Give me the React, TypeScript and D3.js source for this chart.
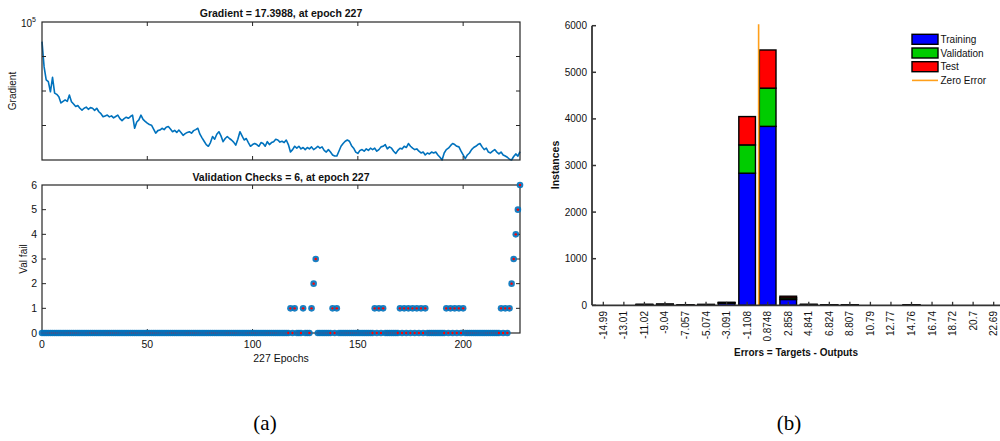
import React, { useMemo } from 'react';
import * as d3 from 'd3';

// gradient per epoch (0..227)
const gradientValues = [
  26900, 5000, 2100, 1860, 950, 2500, 870, 800, 680, 450,
  500, 550, 500, 760, 490, 420, 355, 380, 316, 280,
  316, 340, 295, 330, 316, 275, 316, 250, 220, 180,
  190, 200, 178, 190, 166, 182, 200, 158, 138, 158,
  174, 162, 182, 200, 83, 126, 145, 200, 151, 132,
  117, 107, 102, 79, 60, 71, 74, 83, 76, 89,
  93, 79, 66, 72, 63, 74, 63, 52, 58, 63,
  66, 60, 71, 76, 83, 56, 44, 35, 28, 25,
  32, 48, 40, 56, 66, 50, 34, 42, 48, 42,
  38, 33, 27, 40, 66, 50, 38, 42, 32, 25,
  28, 30, 28, 25, 32, 30, 25, 34, 28, 32,
  34, 40, 38, 33, 35, 32, 38, 28, 17, 20,
  25, 22, 25, 21, 23, 20, 23, 21, 24, 20,
  22, 25, 22, 24, 19, 17, 20, 17, 14, 13,
  13, 18, 25, 30, 35, 38, 35, 26, 22, 17,
  15.5, 19, 20, 18, 21, 19, 22, 20, 22, 18,
  20, 24, 25, 28, 21, 24, 22, 18, 15.5, 19,
  22, 21, 25, 23, 30, 25, 22, 20, 21, 18,
  16, 17, 14, 16, 15, 17, 16, 17, 14, 12,
  10, 16, 20, 22, 26, 30, 28, 25, 24, 18,
  14, 11, 14, 16, 20, 23, 25, 28, 30, 24,
  20, 22, 17, 16, 18, 20, 17, 15, 17, 14,
  13, 12, 10.5, 10, 12.6, 15, 13, 17.3988,
];

// validation checks: epochs with a non-zero count (all others are 0)
const valFailEpochs = [118, 120, 124, 128, 129, 130, 138, 140, 158, 160, 162, 170, 172, 174, 176, 178, 180, 182, 192, 194, 196, 198, 200, 218, 220, 222, 223, 224, 225, 226, 227];
const valFailChecks = [1, 1, 1, 1, 2, 3, 1, 1, 1, 1, 1, 1, 1, 1, 1, 1, 1, 1, 1, 1, 1, 1, 1, 1, 1, 1, 2, 3, 4, 5, 6];

const epochTicks = [0, 50, 100, 150, 200];
const valFailTicks = [0, 1, 2, 3, 4, 5, 6];
const gradientDecades = [10, 100, 1000, 10000, 100000];

// error histogram
const binLabels = ['-14.99', '-13.01', '-11.02', '-9.04', '-7.057', '-5.074', '-3.091', '-1.108', '0.8748', '2.858', '4.841', '6.824', '8.807', '10.79', '12.77', '14.76', '16.74', '18.72', '20.7', '22.69'];
const trainingCounts = [0, 0, 14, 18, 7, 13, 46, 2835, 3840, 125, 14, 8, 8, 0, 0, 7, 0, 0, 0, 0];
const validationCounts = [0, 0, 3, 4, 2, 3, 10, 607, 820, 35, 3, 2, 2, 0, 0, 2, 0, 0, 0, 0];
const testCounts = [0, 0, 3, 3, 1, 2, 9, 608, 819, 35, 3, 2, 2, 0, 0, 1, 0, 0, 0, 0];
const instanceTicks = [0, 1000, 2000, 3000, 4000, 5000, 6000];
const seriesNames = ['Training', 'Validation', 'Test'];
const seriesColors = ['#0000ff', '#00cc00', '#ff0000'];

const FONT = '"Liberation Sans", Arial, Helvetica, sans-serif';
const AX = '#262626';
const BLUE = '#0072bd';

const App: React.FC = () => {
  const top = { left: 42, right: 520, top: 22, bottom: 160 };
  const bot = { left: 42, right: 520, top: 185, bottom: 333 };
  const hist = { left: 592, right: 1005, top: 25.7, bottom: 305.3 };

  const { xTop, yGrad, gradPath, yVal, valPoints } = useMemo(() => {
    const xTop = d3.scaleLinear().domain([0, gradientValues.length - 1]).range([top.left, top.right]);
    const yGrad = d3.scaleLog().domain([10, 1e5]).range([top.bottom, top.top]);
    const gradPath = d3.line<number>()
      .x((_, i) => xTop(i))
      .y(d => yGrad(d))(gradientValues) || '';
    const yVal = d3.scaleLinear().domain([0, 6]).range([bot.bottom, bot.top]);
    const valPoints = gradientValues.map((_, i) => {
      const k = valFailEpochs.indexOf(i);
      return { epoch: i, checks: k >= 0 ? valFailChecks[k] : 0 };
    });
    return { xTop, yGrad, gradPath, yVal, valPoints };
  }, []);

  const { xBand, yHist, stacked, zeroX } = useMemo(() => {
    const xBand = d3.scaleBand<string>().domain(binLabels).range([hist.left, hist.right])
      .paddingInner(0.19).paddingOuter(0.146);
    const yHist = d3.scaleLinear().domain([0, 6000]).range([hist.bottom, hist.top]);
    const rows = binLabels.map((b, i) => ({
      bin: b,
      Training: trainingCounts[i],
      Validation: validationCounts[i],
      Test: testCounts[i],
    }));
    const stacked = d3.stack<any>().keys(seriesNames)(rows);
    // error value -> pixel, through bin centres
    const first = +binLabels[0];
    const last = +binLabels[binLabels.length - 1];
    const errX = d3.scaleLinear().domain([first, last]).range([
      (xBand(binLabels[0]) || 0) + xBand.bandwidth() / 2,
      (xBand(binLabels[binLabels.length - 1]) || 0) + xBand.bandwidth() / 2,
    ]);
    return { xBand, yHist, stacked, zeroX: errX(0) };
  }, []);

  const tick = 4;

  return (
    <svg width={1000} height={441} viewBox="0 0 1000 441"
      style={{ position: 'absolute', left: 0, top: 0, background: '#fff' }}
      fontFamily={FONT}>
      {/* ---------- (a) top: gradient ---------- */}
      <text x={(top.left + top.right) / 2} y={16.5} textAnchor="middle" fontSize={10.5} fontWeight="bold" fill="#111">
        Gradient = 17.3988, at epoch 227
      </text>
      <text transform={`translate(16, ${(top.top + top.bottom) / 2}) rotate(-90)`} textAnchor="middle" fontSize={10} fill="#111">
        Gradient
      </text>
      <text x={21} y={27} fontSize={10} fill="#111">10</text>
      <text x={32} y={21.5} fontSize={7} fill="#111">5</text>

      <path d={gradPath} fill="none" stroke={BLUE} strokeWidth={1.6} strokeLinejoin="round" />

      {epochTicks.filter(t => t > 0).map(t => (
        <g key={`gt${t}`}>
          <line x1={xTop(t)} x2={xTop(t)} y1={top.top} y2={top.top + tick} stroke={AX} />
          <line x1={xTop(t)} x2={xTop(t)} y1={top.bottom} y2={top.bottom - tick} stroke={AX} />
        </g>
      ))}
      {gradientDecades.slice(1, -1).map(t => (
        <g key={`gd${t}`}>
          <line x1={top.left} x2={top.left + tick} y1={yGrad(t)} y2={yGrad(t)} stroke={AX} />
          <line x1={top.right} x2={top.right - tick} y1={yGrad(t)} y2={yGrad(t)} stroke={AX} />
        </g>
      ))}
      <rect x={top.left} y={top.top} width={top.right - top.left} height={top.bottom - top.top}
        fill="none" stroke={AX} strokeWidth={1.2} />

      {/* ---------- (a) bottom: validation checks ---------- */}
      <text x={(bot.left + bot.right) / 2} y={181} textAnchor="middle" fontSize={10.5} fontWeight="bold" fill="#111">
        Validation Checks = 6, at epoch 227
      </text>
      <text transform={`translate(27, ${(bot.top + bot.bottom) / 2}) rotate(-90)`} textAnchor="middle" fontSize={10} fill="#111">
        Val fail
      </text>
      <text x={(bot.left + bot.right) / 2} y={362} textAnchor="middle" fontSize={10.5} fill="#111">
        227 Epochs
      </text>
      {valFailTicks.map(t => (
        <g key={`vt${t}`}>
          <text x={37} y={yVal(t)} dy="0.35em" textAnchor="end" fontSize={10.5} fill="#111">{t}</text>
          {t > 0 && t < 6 && (
            <>
              <line x1={bot.left} x2={bot.left + tick} y1={yVal(t)} y2={yVal(t)} stroke={AX} />
              <line x1={bot.right} x2={bot.right - tick} y1={yVal(t)} y2={yVal(t)} stroke={AX} />
            </>
          )}
        </g>
      ))}
      {epochTicks.map(t => (
        <g key={`vx${t}`}>
          <text x={xTop(t)} y={348} textAnchor="middle" fontSize={10.5} fill="#111">{t}</text>
          {t > 0 && (
            <>
              <line x1={xTop(t)} x2={xTop(t)} y1={bot.top} y2={bot.top + tick} stroke={AX} />
              <line x1={xTop(t)} x2={xTop(t)} y1={bot.bottom} y2={bot.bottom - tick} stroke={AX} />
            </>
          )}
        </g>
      ))}
      <rect x={bot.left} y={bot.top} width={bot.right - bot.left} height={bot.bottom - bot.top}
        fill="none" stroke={AX} strokeWidth={1.2} />
      {valPoints.map(p => (
        <g key={`vp${p.epoch}`}>
          <circle cx={xTop(p.epoch)} cy={yVal(p.checks)} r={3.3} fill={BLUE} opacity={0.9} />
          <circle cx={xTop(p.epoch)} cy={yVal(p.checks)} r={1.2} fill="#ff0000" />
        </g>
      ))}

      {/* ---------- (b) error histogram ---------- */}
      {stacked.map((layer, si) => (
        <g key={layer.key} fill={seriesColors[si]} stroke="#000" strokeWidth={1.4}>
          {layer.map((d, i) => (
            <rect key={binLabels[i]}
              x={xBand(binLabels[i])}
              y={yHist(d[1])}
              width={xBand.bandwidth()}
              height={Math.max(0, yHist(d[0]) - yHist(d[1]))} />
          ))}
        </g>
      ))}
      <line x1={zeroX} x2={zeroX} y1={hist.top - 1.5} y2={hist.bottom} stroke="#ff9f1a" strokeWidth={1.6} />

      <line x1={hist.left} x2={1000} y1={hist.bottom} y2={hist.bottom} stroke="#333" strokeWidth={1.8} />
      <line x1={hist.left} x2={hist.left} y1={hist.top} y2={hist.bottom} stroke="#333" strokeWidth={1.8} />
      {instanceTicks.map(t => (
        <g key={`it${t}`}>
          <line x1={hist.left} x2={hist.left + tick} y1={yHist(t)} y2={yHist(t)} stroke="#333" strokeWidth={1.5} />
          <text x={587} y={yHist(t)} dy="0.35em" textAnchor="end" fontSize={10} fill="#111">{t}</text>
        </g>
      ))}
      {binLabels.map(b => {
        const cx = (xBand(b) || 0) + xBand.bandwidth() / 2;
        return (
          <g key={`bl${b}`}>
            <line x1={cx} x2={cx} y1={hist.bottom} y2={hist.bottom - 3.5} stroke="#333" strokeWidth={1.3} />
            <text transform={`translate(${cx}, 311) rotate(-90)`} dy="0.35em" textAnchor="end" fontSize={10} fill="#111">{b}</text>
          </g>
        );
      })}
      <text transform={`translate(559, 165) rotate(-90)`} textAnchor="middle" fontSize={10.5} fontWeight="bold" fill="#111">
        Instances
      </text>
      <text x={796} y={356} textAnchor="middle" fontSize={10} fontWeight="bold" fill="#111">
        Errors = Targets - Outputs
      </text>

      {/* legend */}
      {seriesNames.map((s, i) => (
        <g key={`lg${s}`} transform={`translate(912, ${39.3 + i * 13.7})`}>
          <rect x={0} y={-5} width={26} height={10} fill={seriesColors[i]} stroke="#000" strokeWidth={1.4} />
          <text x={28.5} dy="0.35em" fontSize={10} fill="#111">{s}</text>
        </g>
      ))}
      <g transform={`translate(912, ${39.3 + 3 * 13.7})`}>
        <line x1={0} x2={26} y1={0} y2={0} stroke="#ff9f1a" strokeWidth={1.6} />
        <text x={28.5} dy="0.35em" fontSize={10} fill="#111">Zero Error</text>
      </g>

      {/* captions */}
      <text x={265} y={430} textAnchor="middle" fontSize={21} fontFamily='"Liberation Serif", "Times New Roman", serif' fill="#000">(a)</text>
      <text x={789} y={430} textAnchor="middle" fontSize={21} fontFamily='"Liberation Serif", "Times New Roman", serif' fill="#000">(b)</text>
    </svg>
  );
};

export default App;
